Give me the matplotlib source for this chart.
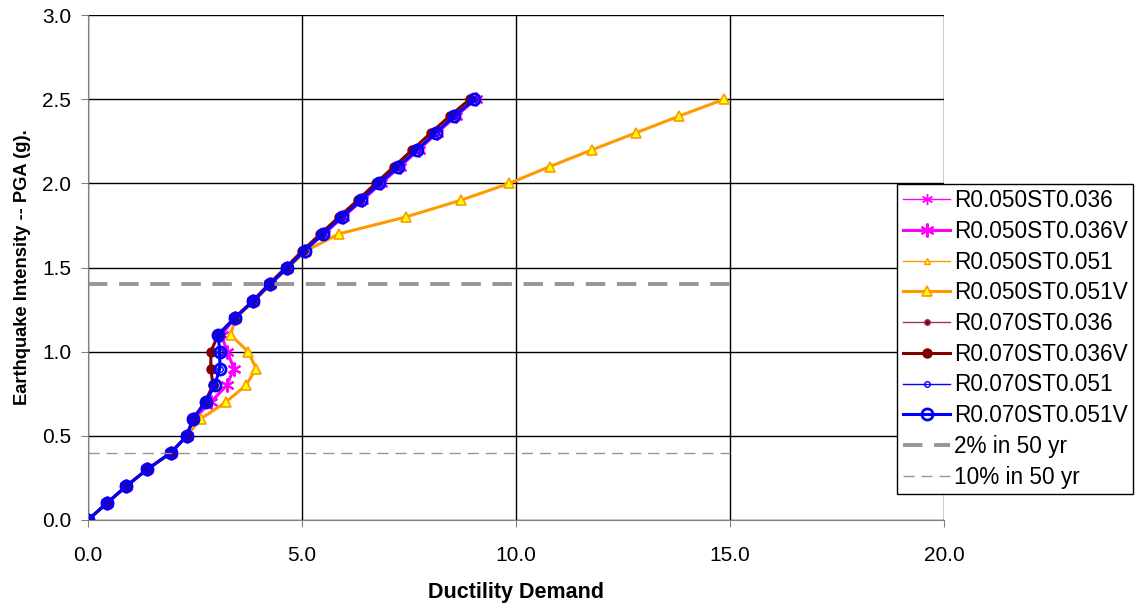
import matplotlib
matplotlib.use("Agg")
import matplotlib.pyplot as plt

plt.rcParams['font.family'] = ['Liberation Sans', 'DejaVu Sans']

# Earthquake intensity levels (PGA, g)
pga = [0.0, 0.1, 0.2, 0.3, 0.4, 0.5, 0.6, 0.7, 0.8, 0.9, 1.0, 1.1, 1.2,
       1.3, 1.4, 1.5, 1.6, 1.7, 1.8, 1.9, 2.0, 2.1, 2.2, 2.3, 2.4, 2.5]

# ductility demand per series
r050_st036 = [0, 0.44, 0.89, 1.38, 1.94, 2.31, 2.47, 2.87, 3.24, 3.41, 3.25, 3.12, 3.43,
              3.86, 4.25, 4.66, 5.07, 5.51, 5.96, 6.41, 6.85, 7.29, 7.73, 8.16, 8.60, 9.06]
r050_st036v = [0, 0.44, 0.89, 1.38, 1.94, 2.31, 2.47, 2.87, 3.24, 3.41, 3.25, 3.12, 3.43,
               3.86, 4.25, 4.66, 5.07, 5.51, 5.96, 6.41, 6.85, 7.29, 7.73, 8.16, 8.60, 9.06]
r050_st051 = [0, 0.44, 0.89, 1.38, 1.94, 2.31, 2.63, 3.22, 3.69, 3.93, 3.74, 3.33, 3.45,
              3.88, 4.27, 4.68, 5.10, 5.86, 7.42, 8.71, 9.84, 10.79, 11.78, 12.80, 13.81, 14.86]
r050_st051v = [0, 0.44, 0.89, 1.38, 1.94, 2.31, 2.63, 3.22, 3.69, 3.93, 3.74, 3.33, 3.45,
               3.88, 4.27, 4.68, 5.10, 5.86, 7.42, 8.71, 9.84, 10.79, 11.78, 12.80, 13.81, 14.86]
r070_st036 = [0, 0.44, 0.89, 1.38, 1.94, 2.31, 2.45, 2.73, 2.92, 2.87, 2.87, 3.04, 3.42,
              3.84, 4.22, 4.62, 5.01, 5.43, 5.86, 6.30, 6.72, 7.15, 7.58, 8.01, 8.45, 8.92]
r070_st036v = [0, 0.44, 0.89, 1.38, 1.94, 2.31, 2.45, 2.73, 2.92, 2.87, 2.87, 3.04, 3.42,
               3.84, 4.22, 4.62, 5.01, 5.43, 5.86, 6.30, 6.72, 7.15, 7.58, 8.01, 8.45, 8.92]
r070_st051 = [0, 0.44, 0.89, 1.38, 1.94, 2.31, 2.45, 2.75, 2.96, 3.08, 3.08, 3.04, 3.43,
              3.86, 4.25, 4.66, 5.06, 5.49, 5.93, 6.38, 6.81, 7.25, 7.69, 8.12, 8.56, 9.03]
r070_st051v = [0, 0.44, 0.89, 1.38, 1.94, 2.31, 2.45, 2.75, 2.96, 3.08, 3.08, 3.04, 3.43,
               3.86, 4.25, 4.66, 5.06, 5.49, 5.93, 6.38, 6.81, 7.25, 7.69, 8.12, 8.56, 9.03]

# hazard levels
hazard_x = [0.0, 15.0]
pga_2in50 = [1.4, 1.4]
pga_10in50 = [0.4, 0.4]

asterisk = (6, 2, 0)

f = plt.figure(figsize=(11.37, 6.06), dpi=100)
ax = f.add_axes([0.0774, 0.142, 0.7528, 0.833])

ax.plot(r050_st036, pga, color='#FF00FF', lw=1.0, marker=asterisk, ms=8, mew=1.0,
        label='R0.050ST0.036')
ax.plot(r050_st036v, pga, color='#FF00FF', lw=2.2, marker=asterisk, ms=10, mew=1.5,
        label='R0.050ST0.036V')
ax.plot(r050_st051, pga, color='#FF9900', lw=1.0, marker='^', ms=4, mfc='#FFFF00',
        mec='#FF9900', label='R0.050ST0.051')
ax.plot(r050_st051v, pga, color='#FF9900', lw=2.2, marker='^', ms=7, mfc='#FFFF00',
        mec='#FF9900', mew=1.2, label='R0.050ST0.051V')
ax.plot(r070_st036, pga, color='#993366', lw=1.0, marker='o', ms=4, mfc='#800000',
        mec='#993366', label='R0.070ST0.036')
ax.plot(r070_st036v, pga, color='#800000', lw=2.2, marker='o', ms=6.5, mfc='#800000',
        mec='#800000', label='R0.070ST0.036V')
ax.plot(r070_st051, pga, color='#0000FF', lw=1.0, marker='o', ms=4, mfc='none',
        mec='#0000FF', label='R0.070ST0.051')
ax.plot(r070_st051v, pga, color='#0000FF', lw=2.2, marker='o', ms=8, mfc='none',
        mec='#0000FF', mew=2.0, label='R0.070ST0.051V')
ax.plot(hazard_x, pga_2in50, color='#969696', lw=2.8, ls=(0, (5, 3)), label='2% in 50 yr')
ax.plot(hazard_x, pga_10in50, color='#969696', lw=1.0, ls=(0, (8, 5)), label='10% in 50 yr')

ax.set_xlim(0, 20)
ax.set_ylim(0, 3.0)
ax.set_xticks([0, 5, 10, 15, 20])
ax.set_yticks([0, 0.5, 1.0, 1.5, 2.0, 2.5, 3.0])
ax.set_xticklabels(['0.0', '5.0', '10.0', '15.0', '20.0'])
ax.set_yticklabels(['0.0', '0.5', '1.0', '1.5', '2.0', '2.5', '3.0'])
ax.grid(True, color='black', lw=1.0)
ax.set_axisbelow(True)
for s in ['top', 'right']:
    ax.spines[s].set_visible(False)
for s in ['left', 'bottom']:
    ax.spines[s].set_color('#808080')
ax.tick_params(labelsize=15, length=5, color='#808080')
ax.tick_params(axis='x', pad=14)
ax.tick_params(axis='y', pad=7)
ax.set_xlabel('Ductility Demand', fontsize=15.5, fontweight='bold', labelpad=12)
ax.set_ylabel('Earthquake Intensity -- PGA (g).', fontsize=13.2, fontweight='bold', labelpad=8)

leg = f.legend(loc='upper left', bbox_to_anchor=(0.789, 0.697), fontsize=16.3,
               frameon=True, fancybox=False, edgecolor='black', framealpha=1,
               handlelength=2.1, handletextpad=0.15, labelspacing=0.34,
               borderpad=0.25, borderaxespad=0)
leg.get_frame().set_linewidth(1.0)

f.savefig('out.png', dpi=100)
plt.close(f)
